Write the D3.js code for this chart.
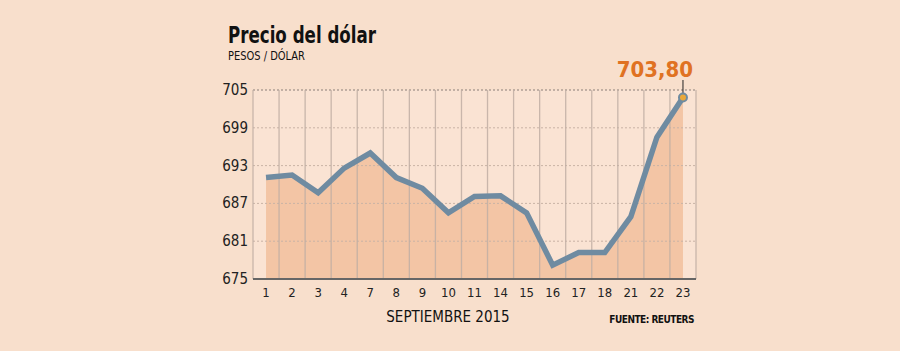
<!DOCTYPE html>
<html><head><meta charset="utf-8">
<script src="https://cdn.jsdelivr.net/npm/d3@7"></script>
<style>
html,body{margin:0;padding:0;background:#f8dfcc;}
svg{display:block;}
</style></head>
<body>
<svg id="chart" width="900" height="351"></svg>
<script>
const categories = ["1","2","3","4","7","8","9","10","11","14","15","16","17","18","21","22","23"];
const values = [691.1, 691.5, 688.7, 692.6, 695.0, 691.1, 689.4, 685.5, 688.1, 688.2, 685.5, 677.2, 679.2, 679.2, 684.9, 697.5, 703.8];
const yTicks = [675, 681, 687, 693, 699, 705];
const lastLabel = "703,80";

(function () {
const svg = d3.select("#chart");
const pL = 253, pR = 696, pT = 90, pB = 279;
const x = d3.scaleBand().domain(categories).range([pL, pR]).padding(0);
const y = d3.scaleLinear().domain([675, 705]).range([pB, pT]);
const cx = d => x(d) + x.bandwidth() / 2;
const font = "'DejaVu Sans Condensed', 'Liberation Sans Narrow', sans-serif";

svg.append("rect").attr("width", 900).attr("height", 351).attr("fill", "#f8dfcc");
svg.append("rect").attr("x", pL).attr("y", pT).attr("width", pR - pL).attr("height", pB - pT).attr("fill", "#fae3d3");

const data = categories.map((c, i) => ({c, v: values[i]}));
svg.append("path").datum(data)
  .attr("d", d3.area().x(d => cx(d.c)).y0(y(675)).y1(d => y(d.v)))
  .attr("fill", "#f3c5a5");

svg.append("g").selectAll("line").data(yTicks.slice(1)).join("line")
  .attr("x1", pL).attr("x2", pR).attr("y1", d => y(d)).attr("y2", d => y(d))
  .attr("stroke", d => d === 705 ? "#8a7f78" : "#c9b3a5").attr("stroke-width", 1).attr("stroke-dasharray", "2,2");

const bounds = categories.map(c => x(c)).concat([pR]);
svg.append("g").selectAll("line").data(bounds).join("line")
  .attr("x1", d => d).attr("x2", d => d).attr("y1", pT).attr("y2", pB)
  .attr("stroke", "#bfaea3").attr("stroke-opacity", 0.85).attr("stroke-width", 1.3);

svg.append("line").attr("x1", pL).attr("x2", pR).attr("y1", pB).attr("y2", pB)
  .attr("stroke", "#666").attr("stroke-width", 2);

svg.append("path").datum(data)
  .attr("d", d3.line().x(d => cx(d.c)).y(d => y(d.v)))
  .attr("fill", "none").attr("stroke", "#6f8ba1").attr("stroke-width", 5.5).attr("stroke-linejoin", "miter");

svg.append("g").selectAll("text").data(yTicks).join("text")
  .attr("x", 248).attr("y", d => y(d) + 5).attr("text-anchor", "end")
  .attr("font-family", font).attr("font-size", 15).attr("fill", "#222").text(d => d);

svg.append("g").selectAll("text").data(categories).join("text")
  .attr("x", d => cx(d)).attr("y", 297).attr("text-anchor", "middle")
  .attr("font-family", font).attr("font-size", 13).attr("fill", "#222").text(d => d);

const last = data[data.length - 1];
svg.append("line").attr("x1", cx(last.c)).attr("x2", cx(last.c)).attr("y1", 80).attr("y2", y(last.v) - 4)
  .attr("stroke", "#222").attr("stroke-width", 1);
svg.append("circle").attr("cx", cx(last.c)).attr("cy", y(last.v)).attr("r", 4)
  .attr("fill", "#eaa83a").attr("stroke", "#6f8ba1").attr("stroke-width", 2);
svg.append("text").attr("x", cx(last.c) - 28).attr("y", 77).attr("text-anchor", "middle")
  .attr("font-family", font).attr("font-weight", "bold").attr("font-size", 22).attr("fill", "#e07222").text(lastLabel);

svg.append("text").attr("x", 228).attr("y", 43).attr("font-family", font).attr("font-weight", "bold")
  .attr("font-size", 23).attr("textLength", 148).attr("lengthAdjust", "spacingAndGlyphs")
  .attr("fill", "#111").text("Precio del dólar");
svg.append("text").attr("x", 228).attr("y", 60).attr("font-family", font)
  .attr("font-size", 12).attr("textLength", 77).attr("lengthAdjust", "spacingAndGlyphs")
  .attr("fill", "#111").text("PESOS / DÓLAR");
svg.append("text").attr("x", 448).attr("y", 322).attr("text-anchor", "middle").attr("font-family", font)
  .attr("font-size", 15).attr("fill", "#111").text("SEPTIEMBRE 2015");
svg.append("text").attr("x", 694).attr("y", 323).attr("text-anchor", "end").attr("font-family", font)
  .attr("font-weight", "bold").attr("font-size", 10).attr("letter-spacing", -0.5).attr("fill", "#111").text("FUENTE: REUTERS");
})();
</script>
</body></html>
